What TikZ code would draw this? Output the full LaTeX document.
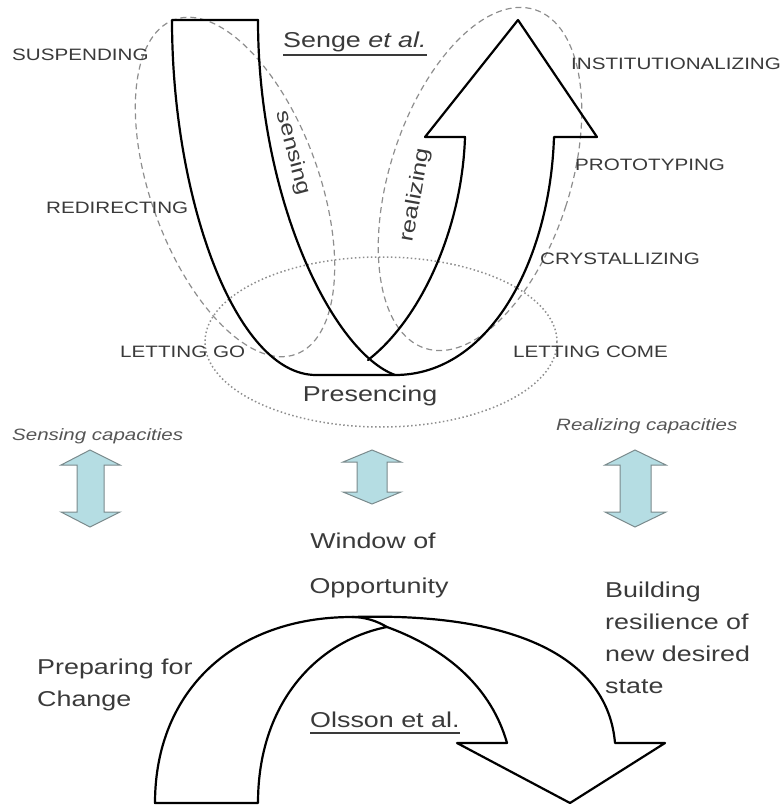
\documentclass[tikz,border=0pt]{standalone}
\usepackage{fontspec}
\setmainfont{Liberation Sans}[FakeStretch=1.25]
\definecolor{inkgray}{HTML}{3A3A3A}
\definecolor{softgray}{HTML}{555555}
\definecolor{ringgray}{HTML}{8E8E8E}
\definecolor{capblue}{HTML}{B5DDE3}
\definecolor{capedge}{HTML}{7A8A8C}
\begin{document}
\begin{tikzpicture}[x=1pt,y=-1pt,
  band/.style={draw=black, line width=2.2pt, line join=round, line cap=round},
  dashring/.style={draw=ringgray, line width=1.2pt, dash pattern=on 6pt off 4pt},
  dotring/.style={draw=ringgray, line width=1.5pt, dash pattern=on 1.5pt off 2.5pt},
  caplabel/.style={inner sep=0pt, anchor=base west, text=inkgray, font=\fontsize{16.5}{20}\selectfont},
  bigtext/.style={inner sep=0pt, text=inkgray, font=\fontsize{21.5}{32}\selectfont},
  smalltext/.style={inner sep=0pt, anchor=base west, text=softgray, font=\fontsize{16.4}{20}\selectfont\itshape},
  capacity/.style={fill=capblue, draw=capedge, line width=1pt, line join=miter},
  uline/.style={draw=inkgray, line width=1.6pt}
]
\useasboundingbox (0,0) rectangle (783,805);

% ---- grouping rings around the U ----
\draw[dashring, rotate around={20:(235,187)}] (235,187) ellipse [x radius=84pt, y radius=178pt];
\draw[dashring, rotate around={-18:(480,179)}] (480,179) ellipse [x radius=90pt, y radius=178pt];
\draw[dotring] (381,342) ellipse [x radius=176pt, y radius=85pt];

% ---- the U: sensing arm down, realizing arrow up ----
\coordinate (armTL) at (172,20);
\coordinate (armTR) at (258,20);
\coordinate (baseL) at (316,375);
\coordinate (baseR) at (395,375);
\coordinate (join)  at (368,360);
\coordinate (shaftR) at (554,137);
\coordinate (barbR) at (597,137);
\coordinate (tipU) at (518,20);
\coordinate (barbL) at (425,137);
\coordinate (shaftL) at (465,137);

\draw[band] (armTR) -- (armTL)
  .. controls (172,200) and (236,375) .. (baseL)
  -- (baseR)
  .. controls (490,375) and (550,260) .. (shaftR)
  -- (barbR) -- (tipU) -- (barbL) -- (shaftL)
  .. controls (462,230) and (420,320) .. (join);
\draw[band] (armTR) .. controls (258,200) and (333,352) .. (baseR);

% ---- labels of the U ----
\node[caplabel] (suspending) at (12,61) {SUSPENDING};
\node[caplabel] (redirecting) at (46,213) {REDIRECTING};
\node[caplabel] (lettinggo) at (120,357) {LETTING GO};
\node[caplabel] (institution) at (571,70) {INSTITUTIONALIZING};
\node[caplabel] (prototyping) at (575,171) {PROTOTYPING};
\node[caplabel] (crystal) at (540,264) {CRYSTALLIZING};
\node[caplabel] (lettingcome) at (513,357) {LETTING COME};

\node[bigtext, anchor=base west] (senge) at (283,48) {Senge \textit{et al.}};
\draw[uline] ([yshift=-7pt]senge.base west) -- ([yshift=-7pt]senge.base east);

\node[bigtext, font=\fontsize{20}{24}\selectfont, rotate=-75] (sensing) at (293,153) {sensing};
\node[bigtext, font=\fontsize{20.4}{24}\selectfont, rotate=80] (realizing) at (416,195) {realizing};
\node[bigtext, anchor=base] (presencing) at (370,401) {Presencing};

% ---- capacities ----
\node[smalltext] (sensecap) at (12,440) {Sensing capacities};
\node[smalltext] (realcap) at (556,430) {Realizing capacities};

\filldraw[capacity] (90,450) -- (120,465) -- (104,465) -- (104,512) -- (120,512) -- (90,527)
  -- (61,512) -- (77,512) -- (77,465) -- (61,465) -- cycle;
\filldraw[capacity] (372,450) -- (401,462) -- (387,462) -- (387,492) -- (401,492) -- (372,504)
  -- (343,492) -- (357,492) -- (357,462) -- (343,462) -- cycle;
\filldraw[capacity] (635,450) -- (666,465) -- (651,465) -- (651,512) -- (666,512) -- (635,527)
  -- (605,512) -- (620,512) -- (620,465) -- (605,465) -- cycle;

\node[bigtext, anchor=base] (window) at (373,548) {Window of};
\node[bigtext, anchor=base] (opportunity) at (379,593) {Opportunity};

% ---- the arch: preparing, then building ----
\coordinate (archOL) at (155,803);
\coordinate (archIL) at (258,803);
\coordinate (crest) at (352,617);
\coordinate (meet) at (387,627);
\coordinate (stemO) at (615,743);
\coordinate (barbO) at (665,743);
\coordinate (tipD) at (570,803);
\coordinate (barbI) at (457,743);
\coordinate (stemI) at (507,743);

\draw[band] (archOL)
  .. controls (155,690) and (235,617) .. (crest)
  .. controls (365,617) and (377,621) .. (meet)
  .. controls (320,640) and (258,700) .. (archIL)
  -- cycle;
\draw[band] (crest)
  .. controls (520,612) and (608,660) .. (stemO)
  -- (barbO) -- (tipD) -- (barbI) -- (stemI)
  .. controls (492,690) and (450,650) .. (meet);

\node[bigtext, anchor=base west, align=left] (preparing) at (37,706) {Preparing for\\Change};
\node[bigtext, anchor=base west, align=left] (building) at (605,693) {Building\\resilience of\\new desired\\state};
\node[bigtext, anchor=base west] (olsson) at (310,727) {Olsson et al.};
\draw[uline] ([yshift=-6pt]olsson.base west) -- ([yshift=-6pt]olsson.base east);
\end{tikzpicture}
\end{document}
